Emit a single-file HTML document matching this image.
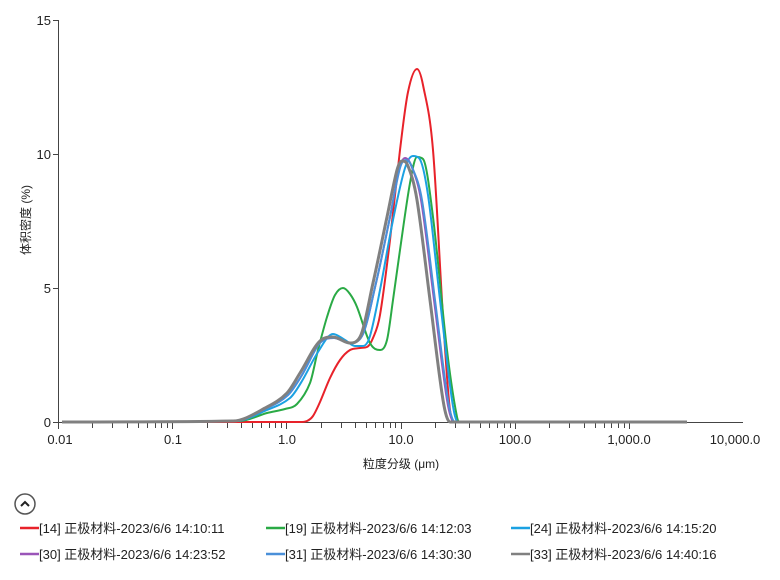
<!DOCTYPE html>
<html><head><meta charset="utf-8"><style>
body{margin:0;background:#fff;width:780px;height:575px;overflow:hidden;font-family:"Liberation Sans","Noto Sans CJK SC",sans-serif;}
svg text{font-family:"Liberation Sans","Noto Sans CJK SC",sans-serif;fill:#222;}
</style></head><body>
<svg id="s" width="780" height="575" xmlns="http://www.w3.org/2000/svg">
<g id="ticks" stroke="#444" stroke-width="1"></g>
<line x1="58.5" y1="20" x2="58.5" y2="422" stroke="#444"/>
<line x1="58" y1="422.5" x2="743" y2="422.5" stroke="#444"/>
<line x1="53" y1="20.5" x2="58" y2="20.5" stroke="#444"/>
<line x1="53" y1="154.5" x2="58" y2="154.5" stroke="#444"/>
<line x1="53" y1="288.5" x2="58" y2="288.5" stroke="#444"/>
<line x1="53" y1="422.5" x2="58" y2="422.5" stroke="#444"/>
<g font-size="13" text-anchor="end">
<text x="51" y="25">15</text><text x="51" y="159">10</text><text x="51" y="293">5</text><text x="51" y="427">0</text>
</g>
<g font-size="13" text-anchor="middle">
<text x="60" y="444">0.01</text><text x="173" y="444">0.1</text><text x="287" y="444">1.0</text><text x="401" y="444">10.0</text><text x="515" y="444">100.0</text><text x="629" y="444">1,000.0</text><text x="735" y="444">10,000.0</text>
<text x="401" y="468" font-size="12">粒度分级 (μm)</text>
<text transform="translate(30,220) rotate(-90)" font-size="12">体积密度 (%)</text>
</g>
<g id="curves" fill="none" stroke-width="2" stroke-linejoin="round"></g>
<circle cx="25" cy="504" r="10" fill="none" stroke="#555" stroke-width="1.5"/>
<polyline points="21,506 25,502 29,506" fill="none" stroke="#222" stroke-width="2"/>
<g font-size="13">
<line x1="20" y1="528" x2="39" y2="528" stroke="#e8222a" stroke-width="2.5"/><text x="39" y="533">[14] 正极材料-2023/6/6 14:10:11</text>
<line x1="266" y1="528" x2="285" y2="528" stroke="#2aaa45" stroke-width="2.5"/><text x="285" y="533">[19] 正极材料-2023/6/6 14:12:03</text>
<line x1="511" y1="528" x2="530" y2="528" stroke="#1ba1e2" stroke-width="2.5"/><text x="530" y="533">[24] 正极材料-2023/6/6 14:15:20</text>
<line x1="20" y1="554" x2="39" y2="554" stroke="#9a55b8" stroke-width="2.5"/><text x="39" y="559">[30] 正极材料-2023/6/6 14:23:52</text>
<line x1="266" y1="554" x2="285" y2="554" stroke="#4a90d9" stroke-width="2.5"/><text x="285" y="559">[31] 正极材料-2023/6/6 14:30:30</text>
<line x1="511" y1="554" x2="530" y2="554" stroke="#808080" stroke-width="2.5"/><text x="530" y="559">[33] 正极材料-2023/6/6 14:40:16</text>
</g>
</svg>
<script>
var ns='http://www.w3.org/2000/svg',g=document.getElementById('ticks');
for(var d=0;d<6;d++){for(var m=1;m<=10;m++){if(d==5&&m>1)break;var x=58+114.2*(d+Math.log10(m));x=Math.round(x)+0.5;
var l=document.createElementNS(ns,'line');l.setAttribute('x1',x);l.setAttribute('x2',x);l.setAttribute('y1',422);l.setAttribute('y2',m==1||m==10?429:428);g.appendChild(l);}}
function slope(p,i){var a=p[i-1],c=p[i+1];if(!a||!c)return 0;var b=p[i];
var s1=(b[1]-a[1])/(b[0]-a[0]),s2=(c[1]-b[1])/(c[0]-b[0]);if(s1*s2<=0)return 0;
var m=(c[1]-a[1])/(c[0]-a[0]);var lim=3*Math.min(Math.abs(s1),Math.abs(s2));if(Math.abs(m)>lim)m=m>0?lim:-lim;return m;}
function path(p){var s='M'+p[0][0]+','+p[0][1];for(var i=0;i<p.length-1;i++){var b=p[i],c=p[i+1],dx=(c[0]-b[0])/3,m1=slope(p,i),m2=slope(p,i+1);
s+=' C'+(b[0]+dx).toFixed(1)+','+(b[1]+m1*dx).toFixed(1)+' '+(c[0]-dx).toFixed(1)+','+(c[1]-m2*dx).toFixed(1)+' '+c[0]+','+c[1];}return s;}
var C=[
['#e8222a',2,[[62,422],[300,422],[307,421],[313,416],[320,402],[330,378],[340,360],[350,350],[360,348],[367,347],[373,338],[380,315],[390,240],[400,150],[408,92],[417,69],[423,85],[433,150],[443,317],[450,410],[455,422],[687,422]]],
['#2aaa45',2,[[62,422],[240,421],[267,413],[285,409],[297,404],[310,383],[318,350],[327,317],[335,295],[343,288],[350,294],[357,307],[370,343],[380,350],[387,340],[393,300],[400,250],[410,183],[417,157],[423,159],[433,217],[447,350],[457,417],[460,422],[687,422]]],
['#1ba1e2',2,[[62,422],[236,421],[267,410],[290,398],[302,381],[318,352],[333,334],[345,340],[355,346],[363,346],[370,336],[380,290],[393,220],[405,168],[413,156],[419,158],[428,195],[440,300],[452,400],[458,422],[687,422]]],
['#9a55b8',2,[[62,422],[234,421],[267,408],[288,395],[302,375],[320,343],[334,338],[350,343],[362,336],[376,283],[390,217],[399,170],[405,158],[411,165],[421,200],[434,300],[447,400],[454,422],[687,422]]],
['#4a90d9',2,[[62,422],[234,421],[267,408],[288,395],[302,375],[320,343],[334,338],[350,343],[362,336],[376,283],[390,217],[400,168],[406,160],[412,167],[422,200],[435,300],[448,400],[455,422],[687,422]]],
['#808080',3,[[62,422],[233,421],[267,407],[287,393],[300,373],[320,341],[333,337],[350,343],[360,337],[373,283],[387,217],[397,170],[402,161],[408,166],[417,200],[430,300],[443,400],[450,422],[687,422]]]];
var cg=document.getElementById('curves');
C.forEach(function(c){var p=document.createElementNS(ns,'path');p.setAttribute('d',path(c[2]));p.setAttribute('stroke',c[0]);p.setAttribute('stroke-width',c[1]);cg.appendChild(p);});
</script>
</body></html>
